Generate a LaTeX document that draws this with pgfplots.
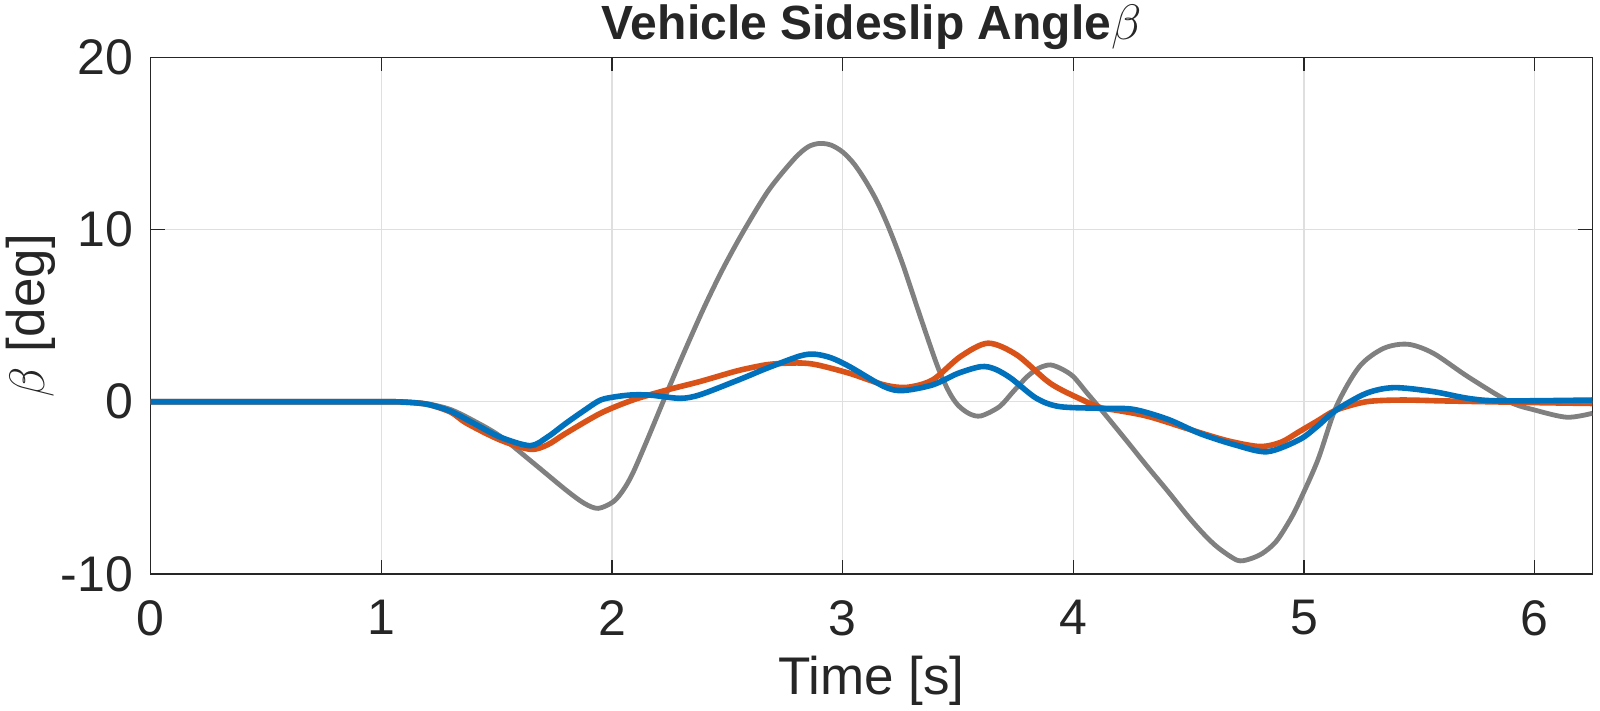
\documentclass[border=0pt]{standalone}
\usepackage{fontspec}
\setmainfont{Liberation Sans}
\usepackage{pgfplots}
\pgfplotsset{compat=1.18}
\definecolor{mgray}{RGB}{128,128,128}
\definecolor{morange}{RGB}{217,83,25}
\definecolor{mblue}{RGB}{0,114,189}
\definecolor{axcol}{RGB}{38,38,38}
\definecolor{gridcol}{RGB}{223,223,223}
\begin{document}
\begin{tikzpicture}
\path[use as bounding box] (0,0) rectangle (800pt,355.5pt);
\begin{axis}[
  at={(75.35pt,68.5pt)}, anchor=south west,
  scale only axis, width=720.8pt, height=258.35pt,
  xmin=0, xmax=6.25, ymin=-10, ymax=20,
  xtick={0,1,2,3,4,5,6}, xticklabels={0,1,2,3,4,5,6},
  ytick={-10,0,10,20}, yticklabels={-10,0,10,20},
  tick align=inside, major tick length=7pt,
  axis line style={draw=axcol, line width=0.75pt},
  every tick/.style={draw=axcol, line width=0.75pt},
  grid=major, major grid style={draw=gridcol, line width=0.6pt},
  xticklabel style={font=\fontsize{25}{25}\selectfont, text=axcol, anchor=north, inner sep=0pt, yshift=-13pt},
  yticklabel style={font=\fontsize{25}{25}\selectfont, text=axcol, anchor=east, inner sep=0pt, xshift=-8.7pt},
]
\addplot[mgray, line width=2.4pt, smooth] coordinates {
(0,0) (0.5,0) (1.0,0) (1.1,-0.02) (1.2,-0.12) (1.3,-0.45) (1.4,-1.1)
(1.515,-2.0) (1.66,-3.57) (1.80,-5.12) (1.88,-5.9) (1.94,-6.19) (2.006,-5.8)
(2.05,-5.1) (2.09,-4.15) (2.15,-2.3) (2.24,0.6) (2.32,3.1) (2.40,5.5)
(2.48,7.7) (2.57,9.9) (2.68,12.3) (2.79,14.1) (2.85,14.8) (2.90,15.0)
(2.95,14.9) (3.0,14.5) (3.05,13.8) (3.10,12.8) (3.15,11.6) (3.20,10.1)
(3.26,8.0) (3.33,5.2) (3.41,2.1) (3.46,0.6) (3.50,-0.2) (3.55,-0.7)
(3.60,-0.82) (3.68,-0.28) (3.74,0.6) (3.80,1.46) (3.85,1.95) (3.90,2.14)
(3.95,1.9) (4.0,1.46) (4.06,0.5) (4.12,-0.45) (4.23,-2.25) (4.32,-3.75)
(4.41,-5.2) (4.50,-6.7) (4.57,-7.75) (4.63,-8.5) (4.71,-9.2) (4.76,-9.15)
(4.82,-8.8) (4.88,-8.1) (4.94,-6.85) (4.98,-5.8) (5.06,-3.38) (5.14,-0.28) (5.24,2.04)
(5.345,3.1) (5.45,3.34) (5.56,2.82) (5.71,1.46) (5.89,0) (6.0,-0.48)
(6.14,-0.9) (6.25,-0.67)
};
\addplot[morange, line width=2.8pt, smooth] coordinates {
(0,0) (0.5,0) (1.0,0) (1.1,-0.02) (1.2,-0.15) (1.3,-0.6) (1.37,-1.25)
(1.515,-2.22) (1.645,-2.76) (1.72,-2.5) (1.80,-1.83) (1.95,-0.67) (2.09,0.1)
(2.24,0.69) (2.38,1.17) (2.53,1.75) (2.60,1.97) (2.67,2.15) (2.74,2.23)
(2.82,2.25) (2.89,2.14) (3.03,1.65) (3.18,0.98) (3.28,0.84) (3.39,1.27)
(3.51,2.62) (3.63,3.4) (3.755,2.72) (3.90,1.07) (4.04,0.1) (4.12,-0.35)
(4.19,-0.5) (4.33,-0.87) (4.55,-1.8) (4.68,-2.3) (4.81,-2.6) (4.90,-2.35)
(4.98,-1.73) (5.06,-1.1) (5.14,-0.48) (5.27,0) (5.42,0.1) (5.6,0.05)
(5.8,0) (6.0,-0.05) (6.25,-0.1)
};
\addplot[mblue, line width=2.8pt, smooth] coordinates {
(0,0) (0.5,0) (1.0,0) (1.1,-0.02) (1.2,-0.15) (1.3,-0.55) (1.4,-1.25)
(1.515,-2.05) (1.645,-2.55) (1.72,-2.05) (1.80,-1.25) (1.88,-0.5) (1.95,0.1)
(2.02,0.3) (2.09,0.4) (2.17,0.38) (2.295,0.2) (2.38,0.4) (2.53,1.17) (2.60,1.55)
(2.67,1.94) (2.815,2.66) (2.88,2.76) (2.95,2.55) (3.03,2.04) (3.18,0.88)
(3.26,0.65) (3.39,0.98) (3.50,1.65) (3.60,2.04) (3.66,1.9) (3.73,1.36) (3.84,0.2)
(3.94,-0.28) (4.12,-0.38) (4.26,-0.44) (4.41,-1.02) (4.55,-1.85) (4.70,-2.5)
(4.84,-2.9) (4.98,-2.2) (5.06,-1.4) (5.14,-0.48) (5.27,0.49) (5.39,0.82)
(5.56,0.59) (5.71,0.2) (5.85,0.05) (6.25,0.1)
};
\end{axis}
\node[anchor=base, font=\fontsize{24}{24}\selectfont\bfseries, text=black!85] at (435.75pt,335.5pt) {Vehicle Sideslip Angle$\beta$};
\node[anchor=base, font=\fontsize{26.5}{26.5}\selectfont, text=axcol] at (435.75pt,8pt) {Time [s]};
\node[anchor=base, rotate=90, font=\fontsize{26.5}{26.5}\selectfont, text=axcol] at (22.25pt,197.65pt) {$\beta$ [deg]};
\end{tikzpicture}
\end{document}
